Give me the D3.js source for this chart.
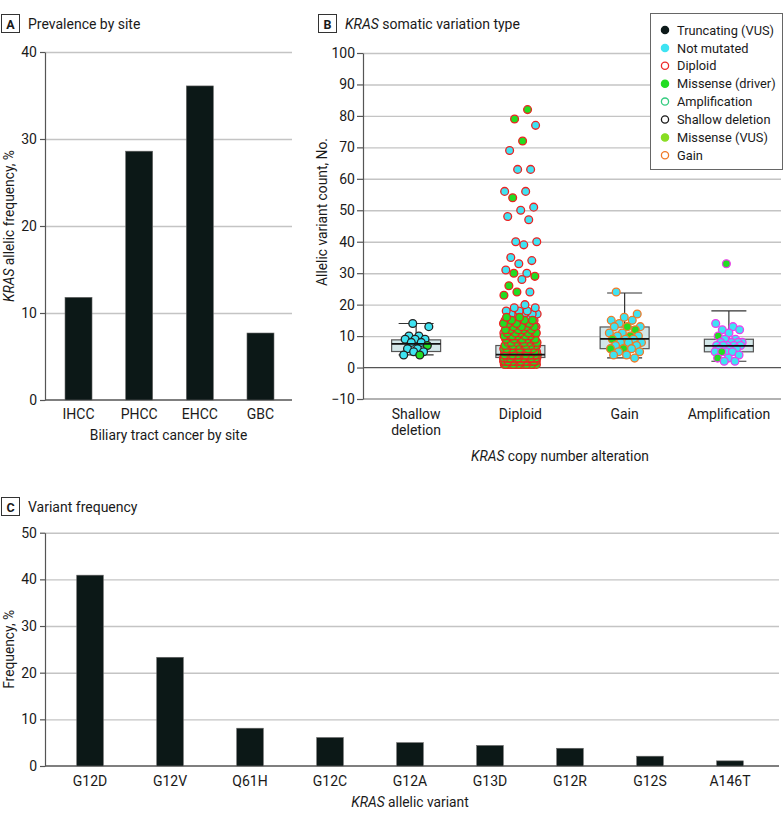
<!DOCTYPE html>
<html><head><meta charset="utf-8">
<script src="https://cdn.jsdelivr.net/npm/d3@7"></script>
<style>
body{margin:0;background:#fff;}
svg text{font-family:"Roboto",sans-serif;fill:#1a1a1a;}
</style></head><body>
<svg id="chart" width="783" height="821"></svg>
<script>
// ---------- Panel A data ----------
const siteCategories = ["IHCC", "PHCC", "EHCC", "GBC"];
const siteFrequency = [11.8, 28.6, 36.1, 7.7];
const siteTicks = [0, 10, 20, 30, 40];

// ---------- Panel B data ----------
const cnaCategories = ["Shallow deletion", "Diploid", "Gain", "Amplification"];
const cnaLabelLines = [["Shallow", "deletion"], ["Diploid"], ["Gain"], ["Amplification"]];
const countTicks = [-10, 0, 10, 20, 30, 40, 50, 60, 70, 80, 90, 100];
const boxQ1 = [5.1, 3.2, 6.0, 5.0];
const boxMedian = [7.5, 4.1, 9.1, 6.9];
const boxQ3 = [8.8, 7.0, 12.9, 9.0];
const whiskerLow = [4, 1, 3.1, 2];
const whiskerHigh = [14, 13, 23.7, 18];

// variant type codes: "nm" = Not mutated, "md" = Missense (driver)
const shallowValues = [14, 13, 10, 10, 9, 9, 9, 8, 8, 7, 6, 6, 5, 5, 4, 4];
const shallowTypes  = ["nm","nm","nm","nm","nm","nm","nm","nm","nm","md","nm","nm","nm","nm","nm","md"];

const diploidOutlierValues = [82, 79, 77, 72, 69, 63, 63, 56, 56, 54, 51, 50, 48, 47, 40, 40, 39, 35, 34, 33, 31, 30, 30, 29, 28, 26, 24, 24, 23, 20];
const diploidOutlierTypes  = ["md","md","nm","md","nm","nm","nm","nm","nm","md","nm","nm","nm","nm","nm","nm","nm","nm","nm","nm","nm","nm","md","md","nm","md","nm","md","md","nm"];
// dense part: number of points at each count value (index = count value)
const diploidDriverCounts = [0, 20, 24, 28, 24, 14, 11, 9, 8, 7, 6, 6, 5, 4, 4, 3, 2];
const diploidNotMutCounts = [0, 6, 8, 8, 7, 5, 4, 4, 3, 3, 3, 3, 4, 4, 4, 4, 4, 4, 3, 2];

const gainValues = [24, 17, 16, 15, 15, 14, 13, 13, 13, 12, 11, 11, 10, 10, 10, 9, 9, 9, 8, 8, 8, 7, 7, 6, 6, 6, 5, 5, 4, 4, 3];
const gainTypes  = ["nm","nm","nm","nm","nm","nm","nm","md","nm","md","nm","nm","md","nm","nm","nm","md","nm","nm","nm","nm","nm","nm","md","md","nm","nm","nm","nm","nm","nm"];

const ampValues = [33, 14, 13, 12, 12, 11, 10, 9, 9, 8, 8, 8, 8, 7, 7, 7, 7, 7, 6, 6, 6, 5, 5, 5, 5, 4, 3, 3, 2, 2];
const ampTypes  = ["md","nm","nm","nm","nm","nm","md","nm","nm","nm","nm","nm","nm","nm","nm","nm","nm","nm","nm","nm","nm","nm","nm","nm","md","nm","nm","md","nm","nm"];

const legendLabels = ["Truncating (VUS)", "Not mutated", "Diploid", "Missense (driver)", "Amplification", "Shallow deletion", "Missense (VUS)", "Gain"];
const legendFilled = [true, true, false, true, false, false, true, false];
const legendColors = ["#0d1a1a", "#3fe3f2", "#ee2a2a", "#22dd22", "#35cc80", "#1a1a1a", "#88dd22", "#f07a28"];

// ---------- Panel C data ----------
const variantCategories = ["G12D", "G12V", "Q61H", "G12C", "G12A", "G13D", "G12R", "G12S", "A146T"];
const variantFrequency = [40.9, 23.3, 8.1, 6.1, 5.0, 4.4, 3.8, 2.1, 1.1];
const variantTicks = [0, 10, 20, 30, 40, 50];

// ---------- styles ----------
const barColor = "#0c1817";
const gridColor = "#c4c4c4";
const axisColor = "#555";
const fillByType = {nm: "#3fe3f2", md: "#22dd22"};
const strokeByCat = ["#222222", "#ee2222", "#f07a28", "#ee3cee"];
const FS = 14;

const svg = d3.select("#chart");

function panelHeader(x, y, letter, parts) {
  svg.append("rect").attr("x", x + 0.5).attr("y", y + 0.5).attr("width", 18).attr("height", 18)
    .attr("fill", "#fff").attr("stroke", "#333").attr("stroke-width", 1);
  svg.append("text").attr("x", x + 9.5).attr("y", y + 14.5).attr("text-anchor", "middle")
    .attr("font-weight", "bold").attr("font-size", 12.5).text(letter);
  const t = svg.append("text").attr("x", x + 27).attr("y", y + 15).attr("font-size", 14);
  parts.forEach(p => t.append("tspan").attr("font-style", p.i ? "italic" : "normal").text(p.t));
}

function styleAxis(g) {
  g.select(".domain").attr("stroke", axisColor).attr("stroke-width", 1.2);
  g.selectAll(".tick line").attr("stroke", axisColor).attr("stroke-width", 1.2);
  g.selectAll(".tick text").attr("font-size", FS).attr("fill", "#1a1a1a")
    .attr("font-family", '"Roboto",sans-serif');
}

// =============== Panel A ===============
{
  const left = 45, right = 292, top = 52, bottom = 400;
  const x = d3.scaleBand().domain(siteCategories).range([left, right + 2]).paddingInner(0.555).paddingOuter(0.33);
  const y = d3.scaleLinear().domain([0, 40]).range([bottom, top]);
  panelHeader(1, 14, "A", [{t: "Prevalence by site"}]);
  svg.append("g").attr("transform", `translate(${left},0)`)
    .call(d3.axisLeft(y).tickValues(siteTicks.filter(d => d > 0)).tickSize(-(right - left)).tickFormat(""))
    .call(g => { g.select(".domain").remove(); g.selectAll("line").attr("stroke", gridColor).attr("stroke-width", 1.4); });
  svg.append("line").attr("x1", left).attr("x2", right).attr("y1", bottom).attr("y2", bottom)
    .attr("stroke", axisColor).attr("stroke-width", 1.4);
  svg.append("g").selectAll("rect").data(siteCategories).join("rect")
    .attr("x", d => x(d)).attr("width", x.bandwidth())
    .attr("y", (d, i) => y(siteFrequency[i])).attr("height", (d, i) => y(0) - y(siteFrequency[i]))
    .attr("fill", barColor).attr("stroke", "#666").attr("stroke-width", 0.6);
  svg.append("g").attr("transform", `translate(${left},0)`)
    .call(d3.axisLeft(y).tickValues(siteTicks).tickSize(5).tickPadding(3).tickSizeOuter(0))
    .call(styleAxis);
  svg.append("g").selectAll("text").data(siteCategories).join("text")
    .attr("x", d => x(d) + x.bandwidth() / 2).attr("y", 419).attr("text-anchor", "middle")
    .attr("font-size", FS).text(d => d);
  svg.append("text").attr("x", (left + right) / 2).attr("y", 440).attr("text-anchor", "middle")
    .attr("font-size", 13.8).text("Biliary tract cancer by site");
  const yt = svg.append("text").attr("transform", `translate(14,${(top + bottom) / 2}) rotate(-90)`)
    .attr("text-anchor", "middle").attr("font-size", 13.8);
  yt.append("tspan").attr("font-style", "italic").text("KRAS");
  yt.append("tspan").text(" allelic frequency, %");
}

// =============== Panel B ===============
{
  const left = 363, right = 781, top = 53, bottom = 399;
  const x = d3.scaleBand().domain(cnaCategories).range([left + 1, right]).padding(0);
  const y = d3.scaleLinear().domain([-10, 100]).range([bottom, top]);
  panelHeader(318, 14, "B", [{t: "KRAS", i: true}, {t: " somatic variation type"}]);
  svg.append("g").attr("transform", `translate(${left},0)`)
    .call(d3.axisLeft(y).tickValues(countTicks.filter(d => d > 0)).tickSize(-(right - left)).tickFormat(""))
    .call(g => { g.select(".domain").remove(); g.selectAll("line").attr("stroke", gridColor).attr("stroke-width", 1.4); });
  svg.append("line").attr("x1", left).attr("x2", right).attr("y1", y(0)).attr("y2", y(0))
    .attr("stroke", axisColor).attr("stroke-width", 1.3);
  svg.append("line").attr("x1", left).attr("x2", right).attr("y1", y(-10)).attr("y2", y(-10))
    .attr("stroke", "#999").attr("stroke-width", 1.4);

  const cx = i => x(cnaCategories[i]) + x.bandwidth() / 2;
  const boxHalf = 24.5, capHalf = 17.5;
  const boxes = svg.append("g");
  cnaCategories.forEach((c, i) => {
    const g = boxes.append("g");
    g.append("line").attr("x1", cx(i)).attr("x2", cx(i)).attr("y1", y(whiskerHigh[i])).attr("y2", y(boxQ3[i]))
      .attr("stroke", "#333").attr("stroke-width", 1.2);
    g.append("line").attr("x1", cx(i)).attr("x2", cx(i)).attr("y1", y(whiskerLow[i])).attr("y2", y(boxQ1[i]))
      .attr("stroke", "#333").attr("stroke-width", 1.2);
    [whiskerHigh[i], whiskerLow[i]].forEach(v => g.append("line")
      .attr("x1", cx(i) - capHalf).attr("x2", cx(i) + capHalf).attr("y1", y(v)).attr("y2", y(v))
      .attr("stroke", "#333").attr("stroke-width", 1.2));
    g.append("rect").attr("x", cx(i) - boxHalf).attr("width", boxHalf * 2)
      .attr("y", y(boxQ3[i])).attr("height", y(boxQ1[i]) - y(boxQ3[i]))
      .attr("fill", "#d3e7e9").attr("stroke", "#555").attr("stroke-width", 1.2);
  });

  // build points
  const pts = [];
  shallowValues.forEach((v, k) => pts.push({c: 0, v, t: shallowTypes[k]}));
  diploidNotMutCounts.forEach((n, v) => { for (let k = 0; k < n; k++) pts.push({c: 1, v, t: "nm"}); });
  diploidDriverCounts.forEach((n, v) => { for (let k = 0; k < n; k++) pts.push({c: 1, v, t: "md"}); });
  diploidOutlierValues.forEach((v, k) => pts.push({c: 1, v, t: diploidOutlierTypes[k]}));
  gainValues.forEach((v, k) => pts.push({c: 2, v, t: gainTypes[k]}));
  ampValues.forEach((v, k) => pts.push({c: 3, v, t: ampTypes[k]}));
  const spread = [13, 17, 17, 14];
  pts.forEach((p, i) => { const f = (i * 0.6180339887 + 0.37) % 1; p.dx = (f - 0.5) * 2 * spread[p.c]; });

  svg.append("g").selectAll("circle").data(pts).join("circle")
    .attr("cx", d => cx(d.c) + d.dx).attr("cy", d => y(d.v)).attr("r", 3.9)
    .attr("fill", d => fillByType[d.t]).attr("stroke", d => strokeByCat[d.c]).attr("stroke-width", 1.3);

  // medians on top
  svg.append("g").selectAll("line").data(cnaCategories).join("line")
    .attr("x1", (d, i) => cx(i) - boxHalf).attr("x2", (d, i) => cx(i) + boxHalf)
    .attr("y1", (d, i) => y(boxMedian[i])).attr("y2", (d, i) => y(boxMedian[i]))
    .attr("stroke", "#111").attr("stroke-width", 1.8);

  svg.append("g").attr("transform", `translate(${left},0)`)
    .call(d3.axisLeft(y).tickValues(countTicks).tickSize(6).tickPadding(2).tickSizeOuter(0))
    .call(styleAxis);

  const xl = svg.append("g");
  cnaCategories.forEach((c, i) => {
    cnaLabelLines[i].forEach((ln, j) => xl.append("text").attr("x", cx(i)).attr("y", 419 + j * 16)
      .attr("text-anchor", "middle").attr("font-size", FS).text(ln));
  });
  const xt = svg.append("text").attr("x", 560).attr("y", 461).attr("text-anchor", "middle").attr("font-size", 13.8);
  xt.append("tspan").attr("font-style", "italic").text("KRAS");
  xt.append("tspan").text(" copy number alteration");
  svg.append("text").attr("transform", `translate(327,212) rotate(-90)`)
    .attr("text-anchor", "middle").attr("font-size", 13.8).text("Allelic variant count, No.");

  // legend
  const lg = svg.append("g");
  lg.append("rect").attr("x", 650.5).attr("y", 13.5).attr("width", 132).attr("height", 156)
    .attr("fill", "#fff").attr("stroke", "#666").attr("stroke-width", 1);
  legendLabels.forEach((l, i) => {
    const yy = 30 + i * 17.9;
    lg.append("circle").attr("cx", 665).attr("cy", yy).attr("r", 3.6)
      .attr("fill", legendFilled[i] ? legendColors[i] : "#fff")
      .attr("stroke", legendColors[i]).attr("stroke-width", 1.3);
    lg.append("text").attr("x", 677).attr("y", yy + 4.6).attr("font-size", 12.8).text(l);
  });
}

// =============== Panel C ===============
{
  const left = 45, right = 779, top = 532.7, bottom = 766;
  const x = d3.scaleBand().domain(variantCategories).range([44, 776]).paddingInner(0.6675).paddingOuter(0.409);
  const y = d3.scaleLinear().domain([0, 50]).range([bottom, top]);
  panelHeader(1, 497, "C", [{t: "Variant frequency"}]);
  svg.append("g").attr("transform", `translate(${left},0)`)
    .call(d3.axisLeft(y).tickValues(variantTicks.filter(d => d > 0)).tickSize(-(right - left)).tickFormat(""))
    .call(g => { g.select(".domain").remove(); g.selectAll("line").attr("stroke", gridColor).attr("stroke-width", 1.4); });
  svg.append("line").attr("x1", left).attr("x2", right).attr("y1", bottom).attr("y2", bottom)
    .attr("stroke", axisColor).attr("stroke-width", 1.4);
  svg.append("g").selectAll("rect").data(variantCategories).join("rect")
    .attr("x", d => x(d)).attr("width", x.bandwidth())
    .attr("y", (d, i) => y(variantFrequency[i])).attr("height", (d, i) => y(0) - y(variantFrequency[i]))
    .attr("fill", barColor).attr("stroke", "#666").attr("stroke-width", 0.6);
  svg.append("g").attr("transform", `translate(${left},0)`)
    .call(d3.axisLeft(y).tickValues(variantTicks).tickSize(5).tickPadding(3).tickSizeOuter(0))
    .call(styleAxis);
  svg.append("g").selectAll("text").data(variantCategories).join("text")
    .attr("x", d => x(d) + x.bandwidth() / 2).attr("y", 786).attr("text-anchor", "middle")
    .attr("font-size", FS).text(d => d);
  const xt = svg.append("text").attr("x", 410).attr("y", 807).attr("text-anchor", "middle").attr("font-size", 13.8);
  xt.append("tspan").attr("font-style", "italic").text("KRAS");
  xt.append("tspan").text(" allelic variant");
  svg.append("text").attr("transform", `translate(14,${(top + bottom) / 2}) rotate(-90)`)
    .attr("text-anchor", "middle").attr("font-size", 13.8).text("Frequency, %");
}
</script>
</body></html>
